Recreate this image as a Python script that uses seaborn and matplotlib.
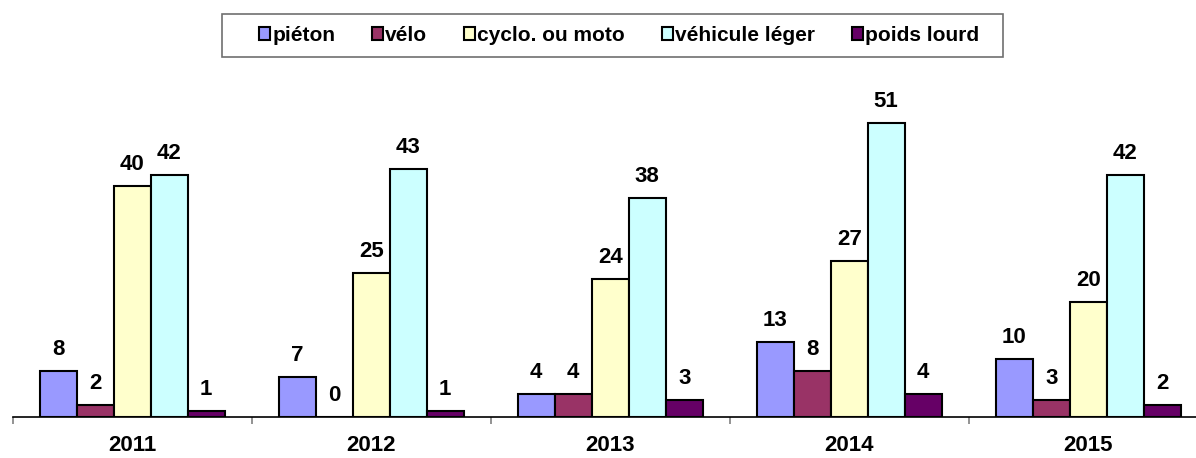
import numpy as np
import pandas as pd
import matplotlib
matplotlib.use("Agg")
import matplotlib.pyplot as plt
from matplotlib.patches import Rectangle
import seaborn as sns

# ─────────────────────────────────────────────
# Data
# ─────────────────────────────────────────────
years = ["2011", "2012", "2013", "2014", "2015"]
modes = ["piéton", "vélo", "cyclo. ou moto", "véhicule léger", "poids lourd"]
pieton = [8, 7, 4, 13, 10]
velo = [2, 0, 4, 8, 3]
cyclo = [40, 25, 24, 27, 20]
vehicule = [42, 43, 38, 51, 42]
poids = [1, 1, 3, 4, 2]
colors = ["#9999FF", "#993366", "#FFFFCC", "#CCFFFF", "#660066"]

series = [pieton, velo, cyclo, vehicule, poids]
df = pd.DataFrame([
    {"year": y, "mode": m, "value": v}
    for m, vals in zip(modes, series)
    for y, v in zip(years, vals)
])

sns.set_style("white")
plt.rcParams["font.family"] = ["Liberation Sans", "DejaVu Sans"]
plt.rcParams["text.color"] = "black"
plt.rcParams["xtick.color"] = "black"

fig = plt.figure(figsize=(11.96, 4.58), dpi=100)
ax = fig.add_axes([0.0106, 0.0895, 0.9894, 0.725])

sns.barplot(data=df, x="year", y="value", hue="mode", order=years,
            hue_order=modes, palette=colors, saturation=1, edgecolor="black",
            linewidth=1.5, width=0.774, gap=0, ax=ax, legend=True)

for cont in ax.containers:
    ax.bar_label(cont, fmt="%d", padding=8, fontsize=16, fontweight="bold",
                 color="black")

ax.set_xlim(-0.5, 4.451)
ax.set_ylim(0, 57.6)
ax.set_xlabel("")
ax.set_ylabel("")
ax.set_yticks([])
for s in ["top", "right", "left"]:
    ax.spines[s].set_visible(False)
ax.spines["bottom"].set_color("black")
ax.spines["bottom"].set_linewidth(1.2)

ax.set_xticks(np.arange(-0.5, 4.5, 1.0), minor=True)
ax.tick_params(axis="x", which="minor", length=5, width=1.2, color="#808080",
               direction="out", bottom=True)
ax.tick_params(axis="x", which="major", length=0, pad=13, labelsize=16,
               labelcolor="black")
for lbl in ax.get_xticklabels():
    lbl.set_fontweight("bold")

handles, labels = ax.get_legend_handles_labels()
ax.legend_.remove()
leg = fig.legend(handles, labels, loc="center", bbox_to_anchor=(0.5176, 0.9225),
                 ncol=5, frameon=False,
                 prop={"weight": "bold", "size": 15}, handlelength=0.55,
                 handleheight=0.55, handletextpad=0.1, columnspacing=1.75)
for h in leg.legend_handles:
    h.set_linewidth(1.5)

# legend box, wider than the entries as in the original
fig.patches.append(Rectangle((0.1856, 0.8755), 0.653, 0.0939,
                             transform=fig.transFigure, fill=False,
                             edgecolor="#707070", linewidth=1.2))

fig.savefig("out.png", dpi=100)
